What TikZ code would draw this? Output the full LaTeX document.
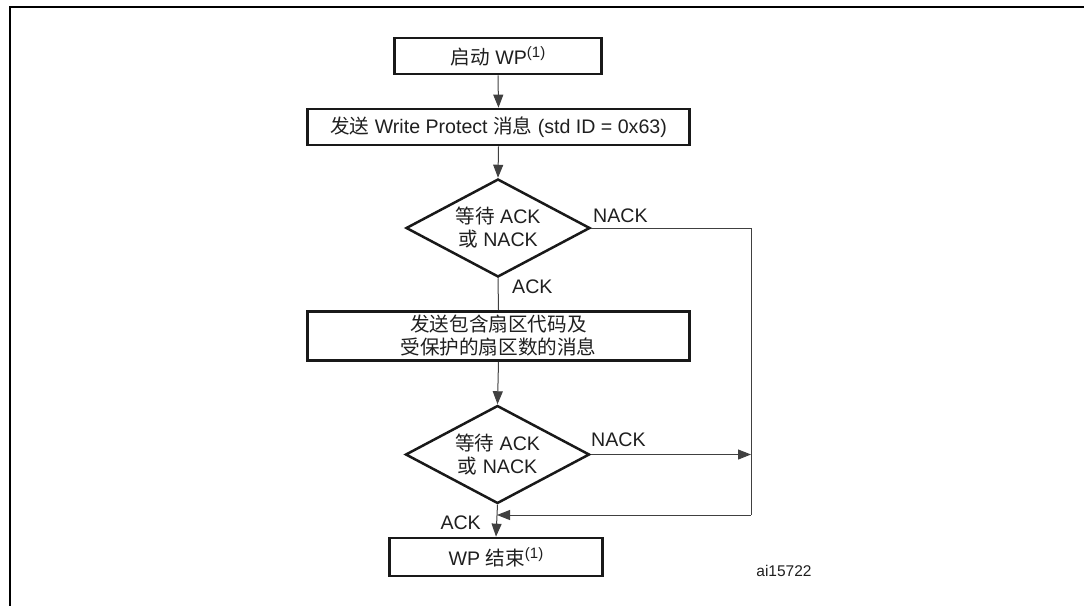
\documentclass[tikz,border=0pt]{standalone}
\usepackage{fontspec}
\setmainfont{Liberation Sans}
\newfontfamily\cjk{Noto Sans CJK SC}
\usetikzlibrary{arrows.meta,shapes.geometric}
\newcommand{\hanzi}[1]{{\cjk #1}}
\newcommand{\notemark}[1]{\raisebox{7pt}{\fontsize{15pt}{15pt}\selectfont #1}}

\tikzset{
  txt/.style={font=\fontsize{19.6pt}{23pt}\selectfont, text=black!88, inner sep=0pt},
  stepbox/.style={txt, draw=black!90, line width=2.7pt, align=center},
  decision/.style={txt, draw=black!90, line width=2.5pt, shape=diamond, aspect=1.86,
    align=center, minimum width=184pt, minimum height=98pt},
  link/.style={draw=black!75, line width=1pt},
  flow/.style={link, -{Triangle[length=13pt,width=10pt]}},
  lbl/.style={txt},
  frameline/.style={draw=black, line width=2pt},
}

\begin{document}
\begin{tikzpicture}[x=1pt, y=-1pt]
  \useasboundingbox (0,0) rectangle (1084,606);

  % figure frame (open to the right and bottom)
  \coordinate (fTR) at (1084,6.5);
  \coordinate (fTL) at (10,6.5);
  \coordinate (fBL) at (10,606);
  \draw[frameline] (fTR) -- (fTL) -- (fBL);

  % process steps
  \node[stepbox, minimum width=207pt, minimum height=36pt] (start) at (498,56)
    {\hanzi{启动} WP\notemark{(1)}};
  \node[stepbox, minimum width=382pt, minimum height=36pt] (send) at (498.5,127)
    {\hanzi{发送} Write Protect \hanzi{消息} (std ID = 0x63)};
  \node[decision] (wait1) at (498,228)
    {\hanzi{等待} ACK\\\hanzi{或} NACK};
  \node[stepbox, minimum width=382pt, minimum height=49pt] (sectors) at (498.5,336)
    {\hanzi{发送包含扇区代码及}\\\hanzi{受保护的扇区数的消息}};
  \node[decision] (wait2) at (497.5,454.5)
    {\hanzi{等待} ACK\\\hanzi{或} NACK};
  \node[stepbox, minimum width=213pt, minimum height=38pt] (finish) at (496,557)
    {WP \hanzi{结束}\notemark{(1)}};

  % return path for negative acknowledgements
  \coordinate (rTop) at (751,228);
  \coordinate (rMid) at (751,454.5);
  \coordinate (rBot) at (751,515);
  \coordinate (join) at (497,515);

  % connectors
  \draw[flow] (start.south) -- (send.north);
  \draw[flow] (send.south) -- (wait1.north);
  \draw[link] (wait1.south) -- (sectors.north);
  \draw[flow] (sectors.south) -- (wait2.north);
  \draw[flow] (wait2.south) -- (finish.north);
  \draw[link] (wait1.east) -- (rTop) -- (rBot);
  \draw[flow] (rBot) -- (join);
  \draw[flow] (wait2.east) -- (rMid);

  % connector labels
  \node[lbl, anchor=west] (ack1) at (512,287) {ACK};
  \node[lbl, anchor=west] (nack1) at (593,216) {NACK};
  \node[lbl, anchor=west] (nack2) at (591,440) {NACK};
  \node[lbl, anchor=east] (ack2) at (481,523) {ACK};

  % drawing reference
  \node[txt, font=\fontsize{15.5pt}{18pt}\selectfont] (ref) at (784,571) {ai15722};
\end{tikzpicture}
\end{document}
